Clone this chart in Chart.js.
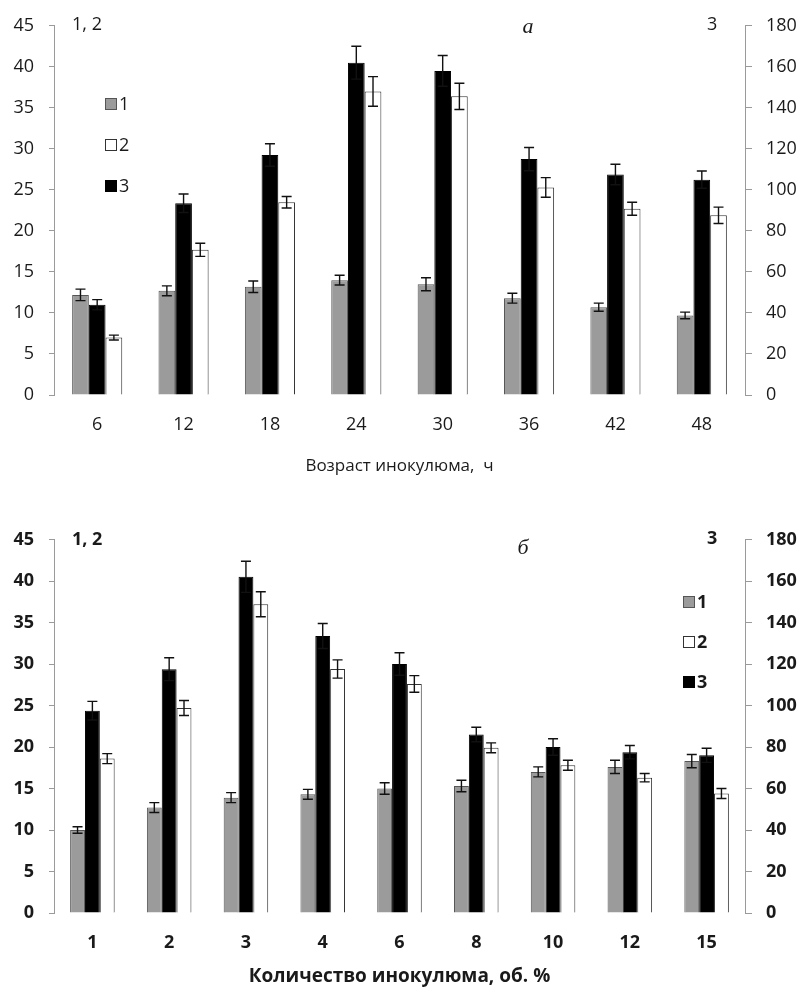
<!DOCTYPE html>
<html>
<head>
<meta charset="utf-8">
<script src="https://cdn.jsdelivr.net/npm/chart.js@4"></script>
<style>
  html, body { margin: 0; padding: 0; background: #fff; }
  .panel { position: absolute; left: 0; width: 803px; }
  canvas { display: block; }
</style>
</head>
<body>
<div class="panel" style="top:0;height:490px"><canvas id="ageChart" width="803" height="490"></canvas></div>
<div class="panel" style="top:490px;height:500px"><canvas id="doseChart" width="803" height="500"></canvas></div>
<script>
// Panel а: inoculum age, h
const ageLabels = ['6', '12', '18', '24', '30', '36', '42', '48'];
const ageS1 = [12.2, 12.7, 13.2, 14.0, 13.5, 11.8, 10.7, 9.7];
const ageS1Err = [0.7, 0.6, 0.7, 0.6, 0.8, 0.6, 0.5, 0.4];
const ageS2 = [7.0, 17.7, 23.5, 37.0, 36.4, 25.3, 22.7, 21.9];
const ageS2Err = [0.3, 0.8, 0.7, 1.8, 1.6, 1.2, 0.8, 1.0];
const ageS3 = [44, 93.5, 117, 162, 158, 115, 107.5, 105];
const ageS3Err = [2.5, 4.5, 5.5, 8, 7.5, 5.7, 5, 4.2];

// Panel б: inoculum amount, vol. %
const doseLabels = ['1', '2', '3', '4', '6', '8', '10', '12', '15'];
const doseS1 = [10.0, 12.7, 13.9, 14.3, 15.0, 15.3, 17.0, 17.6, 18.3];
const doseS1Err = [0.4, 0.6, 0.6, 0.6, 0.7, 0.7, 0.6, 0.8, 0.8];
const doseS2 = [18.6, 24.7, 37.2, 29.4, 27.6, 19.9, 17.8, 16.3, 14.4];
const doseS2Err = [0.6, 0.9, 1.5, 1.1, 1.0, 0.6, 0.6, 0.5, 0.6];
const doseS3 = [97.5, 117.5, 162, 133.5, 120, 86, 80, 77.5, 76];
const doseS3Err = [4.5, 5.5, 7.5, 6, 5.4, 3.5, 4, 3.2, 3.4];

const seriesNames = ['1', '2', '3'];
const FONT = '"Open Sans", "Noto Sans", sans-serif';
const GRAY = '#9b9b9b';
const AXIS = '#9a9a9a';
const INK = '#1a1a1a';

const seriesStyle = {
  '1': { backgroundColor: GRAY, borderColor: '#555', yAxisID: 'y' },
  '2': { backgroundColor: '#ffffff', borderColor: '#333', yAxisID: 'y' },
  '3': { backgroundColor: '#000000', borderColor: '#000', yAxisID: 'y1' }
};

// Symmetric error bars over every bar, in the units of each bar's own axis
const errorBars = {
  id: 'errorBars',
  afterDatasetsDraw(chart) {
    const ctx = chart.ctx;
    ctx.save();
    ctx.strokeStyle = '#111';
    ctx.lineWidth = 1.4;
    chart.data.datasets.forEach((ds, i) => {
      const meta = chart.getDatasetMeta(i);
      const scale = chart.scales[ds.yAxisID];
      meta.data.forEach((bar, j) => {
        const v = ds.data[j], e = ds.errors[j];
        const yTop = scale.getPixelForValue(v + e);
        const yBot = scale.getPixelForValue(v - e);
        const x = bar.x, half = 5;
        ctx.beginPath();
        ctx.moveTo(x, yTop); ctx.lineTo(x, yBot);
        ctx.moveTo(x - half, yTop); ctx.lineTo(x + half, yTop);
        ctx.moveTo(x - half, yBot); ctx.lineTo(x + half, yBot);
        ctx.stroke();
      });
    });
    ctx.restore();
  }
};

// Series key, axis captions and panel letter placed inside the plot
const annotations = {
  id: 'annotations',
  afterDraw(chart, args, opts) {
    const ctx = chart.ctx;
    ctx.save();
    ctx.textBaseline = 'middle';
    ctx.fillStyle = INK;
    ctx.font = opts.weight + ' 18px ' + FONT;
    ctx.textAlign = 'left';
    ctx.fillText('1, 2', opts.leftCaption.x, opts.leftCaption.y);
    ctx.fillText('3', opts.rightCaption.x, opts.rightCaption.y);

    ctx.font = 'italic 22px "Liberation Serif", "DejaVu Serif", serif';
    ctx.textAlign = 'center';
    ctx.fillText(opts.letter, opts.letterPos.x, opts.letterPos.y);

    // key
    ctx.font = opts.weight + ' 18px ' + FONT;
    ctx.textAlign = 'left';
    seriesNames.forEach((name, k) => {
      const st = seriesStyle[name];
      const y = opts.key.y + k * opts.key.step;
      const x = opts.key.x;
      ctx.fillStyle = st.backgroundColor;
      ctx.fillRect(x, y - 6, 12, 12);
      ctx.strokeStyle = st.borderColor;
      ctx.lineWidth = 1;
      ctx.strokeRect(x + 0.5, y - 5.5, 11, 11);
      ctx.fillStyle = INK;
      ctx.fillText(name, x + 14, y + 0.5);
    });
    ctx.restore();
  }
};

function makeDatasets(s1, e1, s2, e2, s3, e3) {
  // bars within a group run 1, 3, 2
  const build = (name, data, errors) => Object.assign({
    label: name, data: data, errors: errors, borderWidth: 1,
    categoryPercentage: 0.58, barPercentage: 1.0
  }, seriesStyle[name]);
  return [build('1', s1, e1), build('3', s3, e3), build('2', s2, e2)];
}

function makeChart(canvasId, labels, datasets, cfg) {
  const tickFont = { family: FONT, size: 18, weight: cfg.weight };
  return new Chart(document.getElementById(canvasId), {
    type: 'bar',
    data: { labels: labels, datasets: datasets },
    plugins: [errorBars, annotations],
    options: {
      responsive: false,
      animation: false,
      layout: { padding: { top: cfg.top, bottom: cfg.bottom, left: 0, right: 0 } },
      plugins: {
        legend: { display: false },
        tooltip: { enabled: false },
        annotations: cfg.notes
      },
      scales: {
        x: {
          grid: { display: false, drawTicks: false },
          border: { display: false },
          ticks: { color: INK, font: tickFont, padding: 19 },
          title: {
            display: true, text: cfg.xTitle, color: INK,
            font: { family: FONT, size: cfg.titleSize, weight: cfg.weight },
            padding: { top: 0, bottom: 0 }
          },
          afterFit(s) { s.height = cfg.xHeight; }
        },
        y: {
          position: 'left', min: 0, max: 45,
          grid: { drawOnChartArea: false, drawTicks: true, tickLength: 5, color: AXIS },
          border: { display: true, color: AXIS, width: 1 },
          ticks: { stepSize: 5, color: INK, font: tickFont, padding: 15 },
          afterFit(s) { s.width = 54; }
        },
        y1: {
          position: 'right', min: 0, max: 180,
          grid: { drawOnChartArea: false, drawTicks: true, tickLength: 7, color: AXIS },
          border: { display: true, color: AXIS, width: 1 },
          ticks: { stepSize: 20, color: INK, font: tickFont, padding: 14 },
          afterFit(s) { s.width = 58; }
        }
      }
    }
  });
}

makeChart('ageChart', ageLabels,
  makeDatasets(ageS1, ageS1Err, ageS2, ageS2Err, ageS3, ageS3Err), {
    weight: 'normal', top: 25, bottom: 14, xHeight: 81, titleSize: 17,
    xTitle: 'Возраст инокулюма,  ч',
    notes: {
      weight: 'normal',
      leftCaption: { x: 72, y: 25 }, rightCaption: { x: 707, y: 25 },
      letter: 'а', letterPos: { x: 528, y: 27 },
      key: { x: 105, y: 104, step: 41 }
    }
  });

makeChart('doseChart', doseLabels,
  makeDatasets(doseS1, doseS1Err, doseS2, doseS2Err, doseS3, doseS3Err), {
    weight: 'bold', top: 49.5, bottom: 2, xHeight: 75, titleSize: 19,
    xTitle: 'Количество инокулюма, об. %',
    notes: {
      weight: 'bold',
      leftCaption: { x: 72, y: 50 }, rightCaption: { x: 707, y: 49 },
      letter: 'б', letterPos: { x: 523, y: 58 },
      key: { x: 683, y: 112, step: 40 }
    }
  });
</script>
</body>
</html>
